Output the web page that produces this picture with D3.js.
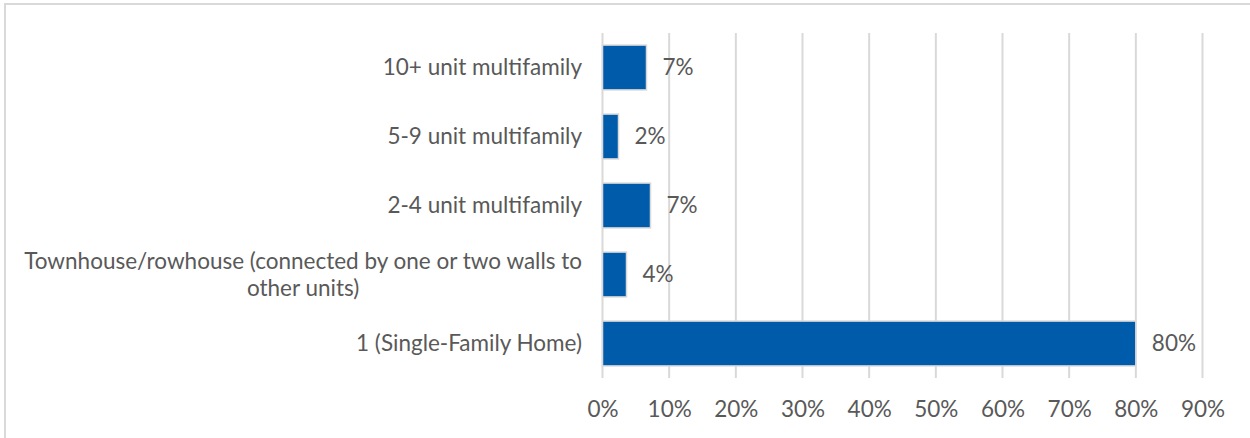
<!DOCTYPE html>
<html>
<head>
<meta charset="utf-8">
<script src="https://cdn.jsdelivr.net/npm/d3@7"></script>
<style>
  html, body { margin: 0; padding: 0; background: #fff; }
  svg { display: block; }
  text { font-family: Lato, "Open Sans", sans-serif; fill: #595959; }
</style>
</head>
<body>
<svg id="chart" width="1250" height="438"></svg>
<script>
// Housing type categories, top to bottom
const categories = [
  "10+ unit multifamily",
  "5-9 unit multifamily",
  "2-4 unit multifamily",
  "Townhouse/rowhouse (connected by one or two walls to other units)",
  "1 (Single-Family Home)"
];
// Share of respondents for each housing type
const shares = [0.066, 0.024, 0.072, 0.036, 0.80];
// Axis ticks
const tickValues = [0, 0.1, 0.2, 0.3, 0.4, 0.5, 0.6, 0.7, 0.8, 0.9];
// Wrapped lines for long category names
const wrappedLabels = {
  "Townhouse/rowhouse (connected by one or two walls to other units)":
    ["Townhouse/rowhouse (connected by one or two walls to", "other units)"]
};

const svg = d3.select("#chart");
const fontSize = 22.5;
const pct = d3.format(".0%");

// Outer chart frame
svg.append("rect")
  .attr("x", 5).attr("y", 4)
  .attr("width", 1260).attr("height", 450)
  .attr("fill", "#fff")
  .attr("stroke", "#d9d9d9").attr("stroke-width", 2);

const x = d3.scaleLinear().domain([0, 0.9]).range([602.5, 1202.5]);
const y = d3.scaleBand().domain(categories).range([33, 378])
  .paddingInner(0.35).paddingOuter(0.175);

// Vertical gridlines
svg.append("g").selectAll("line").data(tickValues).join("line")
  .attr("x1", d => x(d)).attr("x2", d => x(d))
  .attr("y1", 33).attr("y2", 378)
  .attr("stroke", "#d9d9d9").attr("stroke-width", 2);

// Bottom axis labels
const xAxis = d3.axisBottom(x).tickValues(tickValues).tickFormat(pct).tickSize(0).tickPadding(0);
const ax = svg.append("g").attr("transform", "translate(0,401)").call(xAxis);
ax.select(".domain").remove();
ax.selectAll("text").attr("font-size", fontSize).attr("fill", "#595959")
  .style("font-family", "Lato, 'Open Sans', sans-serif");

// Bars
svg.append("g").selectAll("rect").data(categories).join("rect")
  .attr("x", x(0))
  .attr("y", d => y(d))
  .attr("width", (d, i) => x(shares[i]) - x(0))
  .attr("height", y.bandwidth())
  .attr("fill", "#005cab")
  .attr("stroke", "#d9d9d9").attr("stroke-width", 1.5);

// Value labels
svg.append("g").selectAll("text").data(categories).join("text")
  .attr("x", (d, i) => x(shares[i]) + 16)
  .attr("y", d => y(d) + y.bandwidth() / 2)
  .attr("dy", "0.35em")
  .attr("font-size", fontSize)
  .text((d, i) => pct(shares[i]));

// Category labels
const labelRight = 582;
const cat = svg.append("g").selectAll("text").data(categories).join("text")
  .attr("font-size", fontSize)
  .attr("y", d => y(d) + y.bandwidth() / 2);

cat.each(function(d) {
  const t = d3.select(this);
  const lines = wrappedLabels[d];
  if (!lines) {
    t.attr("x", labelRight).attr("text-anchor", "end").attr("dy", "0.35em").text(d);
  } else {
    // Multi-line labels are centred within a block aligned to the right edge
    t.attr("text-anchor", "middle");
    const spans = t.selectAll("tspan").data(lines).join("tspan").text(l => l);
    const widths = [];
    spans.each(function() { widths.push(this.getComputedTextLength()); });
    const cx = labelRight - d3.max(widths) / 2;
    const lh = 27;
    spans.attr("x", cx)
      .attr("dy", (l, i) => i === 0 ? (0.35 * fontSize - lh * (lines.length - 1) / 2) + "px" : lh + "px");
  }
});
</script>
</body>
</html>
